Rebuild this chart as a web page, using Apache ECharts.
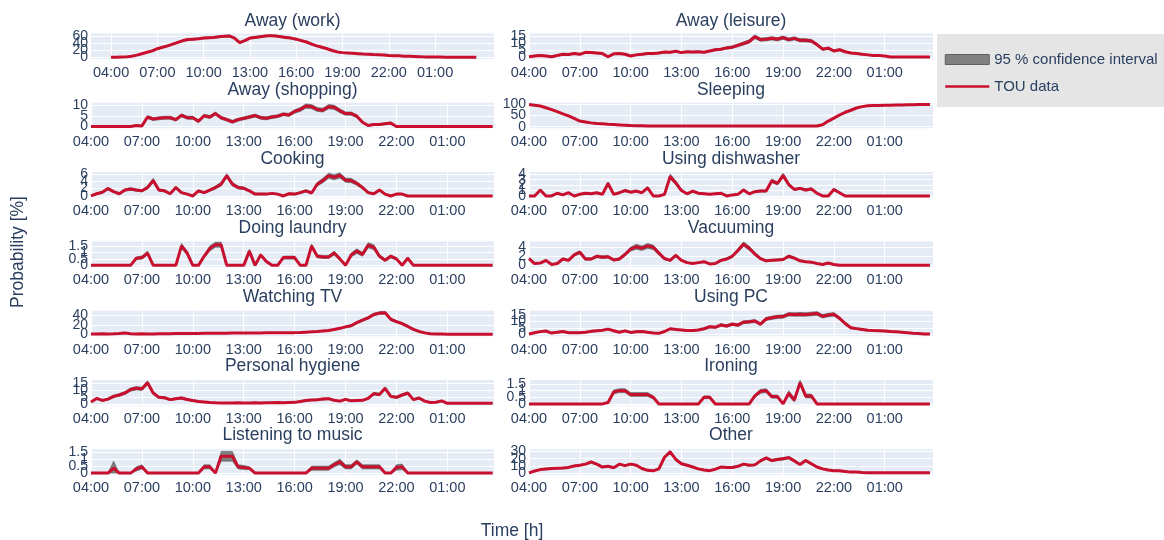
<!DOCTYPE html>
<html>
<head>
<meta charset="utf-8">
<title>TOU activity probabilities</title>
<script src="https://cdn.jsdelivr.net/npm/echarts@6/dist/echarts.min.js"></script>
<style>
  html, body { margin: 0; padding: 0; background: #fff; }
  #chart { width: 1164px; height: 540px; }
</style>
</head>
<body>
<div id="chart"></div>
<script>
// sample times, 20 minute steps starting 04:00
var timeSlots = [
  '04:00','04:20','04:40','05:00','05:20','05:40','06:00','06:20','06:40','07:00','07:20','07:40',
  '08:00','08:20','08:40','09:00','09:20','09:40','10:00','10:20','10:40','11:00','11:20','11:40',
  '12:00','12:20','12:40','13:00','13:20','13:40','14:00','14:20','14:40','15:00','15:20','15:40',
  '16:00','16:20','16:40','17:00','17:20','17:40','18:00','18:20','18:40','19:00','19:20','19:40',
  '20:00','20:20','20:40','21:00','21:20','21:40','22:00','22:20','22:40','23:00','23:20','23:40',
  '00:00','00:20','00:40','01:00','01:20','01:40','02:00','02:20','02:40','03:00','03:20','03:40'
];
var xTickLabels = ['04:00', '07:00', '10:00', '13:00', '16:00', '19:00', '22:00', '01:00'];

// TOU data [%] and half width of the 95 % confidence interval
var awayWork = [
  1, 1, 1.5, 2, 4, 7, 11, 15, 19, 25, 29, 33,
  38, 43, 48, 51, 52, 53, 55, 56, 57, 59, 60, 61,
  55, 42, 48, 55, 57, 59, 61, 62, 61, 59, 57, 55,
  52, 48, 44, 38, 33, 29, 25, 20, 16, 14, 13, 12,
  11, 10, 9.5, 8.5, 8, 7, 6, 5.5, 5, 4, 3.5, 3,
  2.5, 2, 2, 1.5, 1.5, 1, 1, 1, 1, 1, 1, 1
];
var ciWork = [
  .3, .3, .4, .5, .8, 1, 1.2, 1.5, 1.8, 2, 2, 2,
  2.2, 2.2, 2.2, 2.2, 2.2, 2.2, 2.2, 2.2, 2.2, 2.2, 2.2, 2.2,
  2.2, 2.2, 2.2, 2.2, 2.2, 2.2, 2.2, 2.2, 2.2, 2.2, 2.2, 2.2,
  2.2, 2.2, 2.2, 2, 2, 2, 1.8, 1.6, 1.5, 1.4, 1.3, 1.3,
  1.2, 1.2, 1.1, 1, 1, 1, .9, .9, .8, .8, .7, .7,
  .6, .6, .5, .5, .5, .4, .4, .4, .4, .4, .4, .4
];
var awayShopping = [
  0, 0, 0, 0, 0, 0, 0, 0, 0.5, 0.3, 4.4, 3.5,
  3.8, 4.1, 4.1, 3.2, 5.2, 4.1, 4.1, 2.5, 5.0, 4.4, 6.0, 4.1,
  3.2, 2.2, 3.2, 3.8, 4.4, 5.1, 4.1, 3.8, 4.4, 4.8, 5.7, 5.4,
  7.0, 7.9, 9.5, 9.2, 7.9, 7.6, 9.2, 8.9, 7.3, 6.0, 6.0, 4.8,
  2.0, 0.5, 1.0, 1.0, 1.3, 1.6, 0, 0, 0, 0, 0, 0,
  0, 0, 0, 0, 0, 0, 0, 0, 0, 0, 0, 0
];
var ciShopping = [
  0, 0, 0, 0, 0, 0, 0, 0, .3, .3, .7, .7,
  .7, .7, .7, .7, .7, .7, .7, .7, .7, .7, .7, .7,
  .7, .7, .7, .7, .7, .7, .7, .7, .7, .7, .7, .7,
  .8, .9, 1, 1, .9, .9, 1, 1, .9, .8, .8, .7,
  .5, .3, .4, .4, .4, .5, 0, 0, 0, 0, 0, 0,
  0, 0, 0, 0, 0, 0, 0, 0, 0, 0, 0, 0
];
var awayLeisure = [
  0.5, 1, 1.3, 1, 0.5, 1.3, 2.2, 2, 2.7, 2.2, 3.6, 3.4,
  3.1, 2.7, 0.5, 2.5, 2.7, 2.2, 1, 1.8, 2.2, 2.7, 2.7, 3.1,
  3.8, 3.6, 4.3, 3.4, 4, 3.8, 4, 3.6, 4.5, 5.4, 5.8, 6.7,
  7.2, 8.5, 9.8, 11.2, 14.5, 12.5, 12.8, 13.4, 12.8, 13.9, 12.5, 13.4,
  12, 12, 11.6, 9, 5.8, 6.5, 4.5, 5.4, 4, 3.1, 2.7, 2.2,
  1.8, 1.3, 1.3, 1, 0.3, 0.3, 0.3, 0.3, 0.3, 0.3, 0.3, 0.3
];
var ciLeisure = [
  .5, .5, .5, .5, .5, .5, .5, .5, .5, .5, .5, .5,
  .5, .5, .5, .5, .5, .5, .5, .5, .5, .5, .5, .5,
  .5, .5, .5, .5, .5, .5, .5, .5, .5, .7, .7, .8,
  .9, 1, 1.1, 1.2, 1.3, 1.2, 1.2, 1.2, 1.2, 1.2, 1.2, 1.2,
  1.2, 1.2, 1.1, 1, .8, .8, .7, .7, .6, .5, .5, .4,
  .4, .3, .3, .2, .2, .2, .2, .2, .2, .2, .2, .2
];
var sleeping = [
  98, 95, 92, 84, 76, 67, 57, 48, 37, 25, 21, 17,
  14, 13, 11, 9.5, 8, 6.5, 5, 4.5, 4, 3.5, 3.5, 3,
  3, 3, 3, 3, 3, 3, 3, 3, 3, 3, 3, 3,
  3, 3, 3, 3, 3, 3, 3, 3, 3, 3, 3, 3,
  3, 3, 3, 3.5, 9, 25, 38, 52, 64, 73, 83, 89,
  93, 93.5, 94, 95, 95.5, 96, 96.5, 97, 97.5, 98, 98.5, 99
];
var ciSleeping = [
  1, 1.5, 2, 2.5, 3, 3, 3, 3, 3, 2.5, 2.5, 2,
  2, 1.5, 1.5, 1, 1, 1, 1, 1, 1, 1, 1, 1,
  1, 1, 1, 1, 1, 1, 1, 1, 1, 1, 1, 1,
  1, 1, 1, 1, 1, 1, 1, 1, 1, 1, 1, 1,
  1, 1, 1, 1, 1.5, 2, 3, 3, 3, 3, 2.5, 2,
  1.5, 1.5, 1.5, 1, 1, 1, 1, 1, 1, 1, 1, 1
];
var cooking = [
  0, 0.6, 1.0, 2.0, 1.2, 0.6, 1.6, 1.9, 1.6, 1.4, 2.3, 4.2,
  1.6, 1.4, 0.6, 2.3, 0.9, 0.5, 0, 1.4, 0.9, 1.6, 2.3, 3.2,
  5.5, 3.2, 2.3, 2.1, 1.4, 0.5, 0.5, 0.5, 0.7, 0.5, 0, 0.6,
  0.5, 0.9, 1.4, 0.8, 3.2, 4.2, 5.5, 5.1, 5.6, 4.3, 4.2, 3.4,
  2.3, 0.9, 0.6, 1.6, 0.5, 0, 0.5, 0.5, 0, 0, 0, 0,
  0, 0, 0, 0, 0, 0, 0, 0, 0, 0, 0, 0
];
var ciCooking = [
  0, .2, .25, .35, .3, .2, .3, .35, .3, .3, .4, .6,
  .3, .3, .2, .4, .25, .2, 0, .3, .25, .3, .4, .5,
  .6, .5, .4, .35, .3, .2, .2, .2, .2, .2, 0, .2,
  .2, .25, .3, .25, .5, .6, .7, .7, .7, .6, .6, .5,
  .4, .25, .2, .3, .2, 0, .2, .2, 0, 0, 0, 0,
  0, 0, 0, 0, 0, 0, 0, 0, 0, 0, 0, 0
];
var dishwasher = [
  0, 0, 1.1, 0, 0, 0.5, 0.2, 0.6, 0, 0.3, 0.5, 0.4,
  0.6, 0.3, 2.3, 0.3, 0.6, 1.0, 0.7, 0.9, 0.6, 1.5, 0, 0,
  0.3, 3.6, 2.4, 1.0, 0.4, 0.9, 0.5, 0.4, 0.3, 0.4, 0.5, 0,
  0.2, 0.3, 1.1, 0.4, 0.8, 0.9, 0.9, 2.8, 2.3, 3.8, 2.1, 1.2,
  1.4, 1.1, 1.3, 0.5, 0, 0, 1.2, 0.6, 0, 0, 0, 0,
  0, 0, 0, 0, 0, 0, 0, 0, 0, 0, 0, 0
];
var ciDishwasher = [
  0, 0, .2, 0, 0, .12, .08, .12, 0, .08, .12, .1,
  .12, .08, .3, .08, .12, .2, .15, .15, .12, .25, 0, 0,
  .1, .45, .35, .2, .1, .15, .12, .1, .08, .1, .12, 0,
  .08, .08, .2, .1, .15, .18, .18, .35, .3, .4, .3, .2,
  .2, .2, .2, .1, 0, 0, .25, .12, 0, 0, 0, 0,
  0, 0, 0, 0, 0, 0, 0, 0, 0, 0, 0, 0
];
var laundry = [
  0, 0, 0, 0, 0, 0, 0, 0, 0.55, 0.6, 0.95, 0,
  0, 0, 0, 0, 1.5, 0.95, 0, 0, 0.7, 1.3, 1.6, 1.6,
  0, 0, 0, 0, 1.1, 0, 0.8, 0.3, 0, 0, 0.6, 0.6,
  0.6, 0, 0, 1.5, 0.7, 0.65, 0.65, 0.95, 0.5, 0, 0.8, 1.1,
  0.85, 1.55, 1.4, 0.7, 0.4, 0.7, 0.5, 0, 0.55, 0, 0, 0,
  0, 0, 0, 0, 0, 0, 0, 0, 0, 0, 0, 0
];
var ciLaundry = [
  0, 0, 0, 0, 0, 0, 0, 0, .1, .12, .15, 0,
  0, 0, 0, 0, .2, .15, 0, 0, .12, .2, .2, .2,
  0, 0, 0, 0, .15, 0, .12, .08, 0, 0, .12, .12,
  .12, 0, 0, .15, .12, .12, .12, .15, .1, 0, .15, .18,
  .15, .2, .2, .12, .1, .12, .1, 0, .1, 0, 0, 0,
  0, 0, 0, 0, 0, 0, 0, 0, 0, 0, 0, 0
];
var vacuuming = [
  1.5, 0.4, 0.5, 1.1, 0.2, 0.4, 1.4, 1.1, 2.3, 2.9, 1.4, 1.4,
  2.0, 1.8, 1.9, 1.2, 1.4, 2.4, 3.6, 4.1, 3.8, 4.3, 4.0, 2.7,
  1.5, 1.1, 2.2, 1.1, 0.6, 0.4, 0.6, 0.8, 0.3, 0.4, 1.1, 1.4,
  2.0, 3.3, 4.7, 3.8, 2.5, 1.5, 1.0, 1.1, 1.2, 1.3, 2.0, 1.6,
  1.0, 0.8, 0.7, 0.4, 0.2, 0.5, 0.2, 0, 0, 0, 0, 0,
  0, 0, 0, 0, 0, 0, 0, 0, 0, 0, 0, 0
];
var ciVacuuming = [
  .25, .1, .12, .2, .08, .1, .25, .2, .3, .35, .25, .25,
  .3, .3, .3, .2, .25, .35, .45, .55, .5, .55, .5, .4,
  .25, .2, .3, .2, .12, .1, .12, .15, .08, .1, .2, .25,
  .3, .4, .5, .45, .35, .25, .2, .2, .2, .2, .3, .25,
  .2, .15, .15, .1, .05, .1, .05, 0, 0, 0, 0, 0,
  0, 0, 0, 0, 0, 0, 0, 0, 0, 0, 0, 0
];
var watchingTV = [
  1.0, 1.2, 1.4, 1.3, 1.5, 2.0, 3.0, 1.5, 1.3, 1.5, 1.2, 1.0,
  1.5, 1.6, 1.8, 2.0, 2.0, 2.2, 2.3, 2.4, 2.5, 2.6, 2.7, 2.8,
  2.9, 3.0, 3.0, 3.1, 3.2, 3.3, 3.4, 3.5, 3.5, 3.6, 3.7, 3.8,
  4.0, 4.4, 5.0, 5.6, 6.5, 7.5, 8.5, 10.5, 13, 16, 18.5, 25,
  30, 35, 42, 45, 45.5, 32, 27, 23, 17, 11, 6.5, 3.5,
  1.8, 1.2, 1.0, 0.8, 0.8, 0.7, 0.7, 0.6, 0.6, 0.5, 0.5, 0.5
];
var ciTV = [
  .5, .5, .5, .5, .5, .5, .5, .5, .5, .5, .5, .5,
  .5, .5, .5, .5, .5, .5, .5, .5, .5, .5, .5, .5,
  .5, .5, .5, .5, .5, .5, .5, .5, .5, .5, .5, .5,
  .6, .7, .8, .9, 1, 1.1, 1.2, 1.4, 1.6, 1.8, 2, 2.2,
  2.4, 2.6, 2.8, 2.9, 2.9, 2.6, 2.4, 2.2, 1.9, 1.5, 1.1, .8,
  .6, .5, .5, .4, .4, .4, .4, .4, .4, .4, .4, .4
];
var usingPC = [
  0.5, 1.5, 2.3, 2.8, 1.2, 1.8, 2.4, 1.5, 1.5, 1.5, 1.8, 2.5,
  2.9, 3.3, 4.2, 3.0, 1.8, 2.9, 1.7, 2.2, 2.4, 1.8, 1.3, 1.0,
  2.4, 4.5, 4.0, 3.6, 3.2, 3.2, 3.6, 4.5, 6.0, 5.6, 7.4, 6.6,
  8.0, 7.3, 9.5, 9.8, 10.4, 8.0, 12.0, 12.9, 13.6, 13.8, 15.6, 15.4,
  15.5, 15.4, 15.8, 16.2, 14.0, 15.0, 15.5, 12.5, 8.5, 5.3, 4.6, 4.0,
  3.4, 3.1, 2.9, 2.7, 2.4, 2.2, 1.9, 1.5, 1.0, 0.8, 0.5, 0.4
];
var ciPC = [
  .5, .5, .5, .5, .5, .5, .5, .5, .5, .5, .5, .5,
  .5, .5, .5, .5, .5, .5, .5, .5, .5, .5, .5, .5,
  .5, .5, .5, .5, .5, .5, .6, .7, .8, .8, .9, .9,
  1, 1, 1.1, 1.1, 1.2, 1.1, 1.2, 1.3, 1.3, 1.3, 1.4, 1.4,
  1.4, 1.4, 1.4, 1.4, 1.3, 1.4, 1.4, 1.2, 1, .8, .7, .7,
  .6, .6, .6, .5, .5, .5, .4, .4, .3, .3, .3, .3
];
var hygiene = [
  1.4, 4.0, 2.5, 3.5, 5.5, 6.5, 8.0, 10.5, 11.5, 11.0, 15.5, 8.0,
  4.8, 4.5, 3.1, 3.8, 4.3, 3.2, 2.4, 1.8, 1.4, 1.0, 0.8, 0.7,
  0.6, 0.7, 0.8, 0.6, 0.7, 0.9, 0.7, 0.8, 0.9, 1.0, 0.8, 1.0,
  1.1, 1.8, 2.4, 2.9, 3.0, 3.5, 3.8, 2.6, 2.0, 3.3, 2.2, 2.4,
  2.6, 4.0, 7.5, 6.8, 11.4, 5.5, 4.8, 6.5, 7.9, 3.1, 4.3, 2.0,
  1.0, 1.2, 2.2, 0.4, 0.4, 0.4, 0.4, 0.4, 0.4, 0.4, 0.4, 0.4
];
var ciHygiene = [
  .4, .7, .6, .7, .9, 1, 1.1, 1.2, 1.3, 1.2, 1.4, 1.1,
  .8, .8, .7, .7, .8, .7, .6, .5, .4, .3, .3, .3,
  .3, .3, .3, .3, .3, .3, .3, .3, .3, .3, .3, .3,
  .4, .5, .6, .6, .6, .7, .7, .6, .5, .6, .5, .5,
  .6, .7, 1, .9, 1.2, .8, .8, .9, 1, .6, .7, .5,
  .3, .4, .5, .2, .2, .2, .2, .2, .2, .2, .2, .2
];
var ironing = [
  0, 0, 0, 0, 0, 0, 0, 0, 0, 0, 0, 0,
  0, 0, 0.1, 0.9, 1.0, 1.0, 0.7, 0.7, 0.7, 0.7, 0.5, 0,
  0, 0, 0, 0, 0, 0, 0, 0.5, 0.5, 0, 0, 0,
  0, 0, 0, 0, 0.6, 0.95, 1.0, 0.55, 0.55, 0, 0.8, 0.3,
  1.6, 0.6, 0.6, 0, 0, 0, 0, 0, 0, 0, 0, 0,
  0, 0, 0, 0, 0, 0, 0, 0, 0, 0, 0, 0
];
var ciIroning = [
  0, 0, 0, 0, 0, 0, 0, 0, 0, 0, 0, 0,
  0, 0, .05, .15, .15, .15, .15, .15, .15, .15, .12, 0,
  0, 0, 0, 0, 0, 0, 0, .1, .1, 0, 0, 0,
  0, 0, 0, 0, .12, .15, .15, .12, .12, 0, .2, .15,
  .2, .15, .15, 0, 0, 0, 0, 0, 0, 0, 0, 0,
  0, 0, 0, 0, 0, 0, 0, 0, 0, 0, 0, 0
];
var music = [
  0, 0, 0, 0, 0.35, 0, 0, 0, 0.3, 0.45, 0, 0,
  0, 0, 0, 0, 0, 0, 0, 0, 0.45, 0.45, 0, 1.2,
  1.2, 1.2, 0.45, 0.4, 0.35, 0, 0, 0, 0, 0, 0, 0,
  0, 0, 0, 0.35, 0.35, 0.35, 0.35, 0.6, 0.8, 0.45, 0.45, 0.8,
  0.45, 0.45, 0.45, 0.45, 0, 0, 0.4, 0.45, 0, 0, 0, 0,
  0, 0, 0, 0, 0, 0, 0, 0, 0, 0, 0, 0
];
var ciMusic = [
  0, 0, 0, 0, .5, 0, 0, 0, .15, .15, 0, 0,
  0, 0, 0, 0, 0, 0, 0, 0, .15, .15, 0, .35,
  .35, .35, .15, .15, .1, 0, 0, 0, 0, 0, 0, 0,
  0, 0, 0, .15, .15, .15, .15, .15, .2, .15, .15, .15,
  .15, .15, .15, .15, 0, 0, .2, .2, 0, 0, 0, 0,
  0, 0, 0, 0, 0, 0, 0, 0, 0, 0, 0, 0
];
var other = [
  0.5, 3.0, 5.0, 5.8, 6.5, 6.8, 7.1, 8.0, 10.0, 11.0, 12.5, 15.5,
  12.5, 8.5, 9.5, 7.5, 12.5, 10.5, 12.5, 11.0, 6.5, 4.0, 3.3, 6.0,
  22, 29.5, 19, 13, 11, 8.5, 6.0, 4.5, 3.5, 5.5, 8.5, 8.0,
  8.0, 9.5, 12.5, 11.0, 11.5, 17.0, 21.0, 17.5, 19.0, 20.0, 21.5, 17.0,
  12.0, 17.5, 13.0, 8.5, 6.0, 4.5, 3.5, 3.5, 2.5, 1.5, 1.5, 1.0,
  0.8, 0.5, 0.5, 0.5, 0.5, 0.5, 0.5, 0.5, 0.5, 0.5, 0.5, 0.5
];
var ciOther = [
  .2, .6, .8, 1, 1, 1, 1, 1, 1, 1, 1, 1,
  1, 1, 1, 1, 1, 1, 1, 1, 1, 1, 1, 1,
  1.5, 1.8, 1.4, 1.2, 1, 1, .8, .7, .6, .8, 1, 1,
  1, 1.1, 1.2, 1.2, 1.2, 1.5, 1.6, 1.5, 1.6, 1.6, 1.6, 1.5,
  1.2, 1.5, 1.2, 1, .8, .7, .6, .6, .5, .4, .4, .3,
  .2, .2, .2, .2, .2, .2, .2, .2, .2, .2, .2, .2
];

// subplot settings: column, row, axis ranges and tick values
var panels = [
  { title: 'Away (work)', col: 0, row: 0, tou: awayWork, ci: ciWork, yTicks: [0, 20, 40, 60], yMin: -4, yMax: 68, xMin: 2.7, xMax: 28.82 },
  { title: 'Away (shopping)', col: 0, row: 1, tou: awayShopping, ci: ciShopping, yTicks: [0, 5, 10], yMin: -0.8, yMax: 11 },
  { title: 'Cooking', col: 0, row: 2, tou: cooking, ci: ciCooking, yTicks: [0, 2, 4, 6], yMin: -0.45, yMax: 6.5 },
  { title: 'Doing laundry', col: 0, row: 3, tou: laundry, ci: ciLaundry, yTicks: [0, 0.5, 1, 1.5], yMin: -0.12, yMax: 1.85 },
  { title: 'Watching TV', col: 0, row: 4, tou: watchingTV, ci: ciTV, yTicks: [0, 20, 40], yMin: -3.5, yMax: 50 },
  { title: 'Personal hygiene', col: 0, row: 5, tou: hygiene, ci: ciHygiene, yTicks: [0, 5, 10, 15], yMin: -1.2, yMax: 17.5 },
  { title: 'Listening to music', col: 0, row: 6, tou: music, ci: ciMusic, yTicks: [0, 0.5, 1, 1.5], yMin: -0.12, yMax: 1.7 },
  { title: 'Away (leisure)', col: 1, row: 0, tou: awayLeisure, ci: ciLeisure, yTicks: [0, 5, 10, 15], yMin: -1.1, yMax: 16.8 },
  { title: 'Sleeping', col: 1, row: 1, tou: sleeping, ci: ciSleeping, yTicks: [0, 50, 100], yMin: -7, yMax: 106 },
  { title: 'Using dishwasher', col: 1, row: 2, tou: dishwasher, ci: ciDishwasher, yTicks: [0, 1, 2, 3, 4], yMin: -0.3, yMax: 4.4 },
  { title: 'Vacuuming', col: 1, row: 3, tou: vacuuming, ci: ciVacuuming, yTicks: [0, 2, 4], yMin: -0.35, yMax: 5.3 },
  { title: 'Using PC', col: 1, row: 4, tou: usingPC, ci: ciPC, yTicks: [0, 5, 10, 15], yMin: -1.2, yMax: 18.3 },
  { title: 'Ironing', col: 1, row: 5, tou: ironing, ci: ciIroning, yTicks: [0, 0.5, 1, 1.5], yMin: -0.12, yMax: 1.8 },
  { title: 'Other', col: 1, row: 6, tou: other, ci: ciOther, yTicks: [0, 10, 20, 30], yMin: -2.2, yMax: 33 }
];

function toHour(s) { // '02:20' -> 26.33 (the day runs from 04:00 to 04:00)
  var parts = s.split(':');
  var v = Number(parts[0]) + Number(parts[1]) / 60;
  return v < 4 ? v + 24 : v;
}

var hours = timeSlots.map(toHour);
var xTickHours = xTickLabels.map(toHour);
var FONT = "'Liberation Sans', Arial, sans-serif";
var TEXT = '#2a3f5f';
var BAND = 'rgba(80,80,80,0.72)';

// one polygon for the whole band, drawn when the first item is rendered
function bandRenderer(rows) {
  return function (params, api) {
    if (params.dataIndex !== 0) return null;
    var pts = [], k;
    for (k = 0; k < rows.length; k++) pts.push(api.coord([rows[k][0], rows[k][2]]));
    for (k = rows.length - 1; k >= 0; k--) pts.push(api.coord([rows[k][0], rows[k][1]]));
    return {
      type: 'polygon',
      shape: { points: pts },
      style: { fill: BAND, stroke: 'rgba(70,70,70,0.6)', lineWidth: 0.8 }
    };
  };
}

function gridLeft(p) { return p.col === 0 ? 91 : 529; }

var grids = [], xAxes = [], yAxes = [], series = [], graphics = [];

panels.forEach(function (p, i) {
  var left = gridLeft(p);
  var width = p.col === 0 ? 403 : 404;
  var top = 33.5 + 69.3 * p.row;

  grids.push({
    left: left, top: top, width: width, height: 25.5,
    show: true, backgroundColor: '#e5ecf6', borderWidth: 0,
    outerBoundsMode: 'none'
  });

  xAxes.push({
    type: 'value', gridIndex: i,
    min: p.xMin !== undefined ? p.xMin : 4,
    max: p.xMax !== undefined ? p.xMax : (p.col === 0 ? 27.75 : 27.85),
    axisLine: { show: false },
    axisTick: { show: false, customValues: xTickHours },
    axisLabel: {
      customValues: xTickHours, margin: 6, color: TEXT, fontSize: 14.5, fontFamily: FONT,
      showMinLabel: true, showMaxLabel: true,
      formatter: function (v) {
        var k = xTickHours.indexOf(v);
        return k > -1 ? xTickLabels[k] : '';
      }
    },
    splitLine: { show: true, lineStyle: { color: '#ffffff', width: 1 } }
  });

  // tick labels of the y axes overlap on purpose, they are added as text below
  yAxes.push({
    type: 'value', gridIndex: i, min: p.yMin, max: p.yMax,
    axisLine: { show: false },
    axisTick: { show: false, customValues: p.yTicks },
    axisLabel: { show: false, customValues: p.yTicks },
    splitLine: { show: true, lineStyle: { color: '#ffffff', width: 1 } }
  });

  var bandRows = hours.map(function (h, k) {
    return [h, Math.max(0, p.tou[k] - p.ci[k]), p.tou[k] + p.ci[k]];
  });
  series.push({
    type: 'custom', name: '95 % confidence interval', xAxisIndex: i, yAxisIndex: i,
    data: bandRows, encode: { x: 0, y: [1, 2] },
    renderItem: bandRenderer(bandRows), clip: true, silent: true,
    itemStyle: { color: '#7f7f7f' }, z: 2
  });
  series.push({
    type: 'line', name: 'TOU data', xAxisIndex: i, yAxisIndex: i,
    data: hours.map(function (h, k) { return [h, p.tou[k]]; }),
    symbol: 'none', silent: true,
    itemStyle: { color: '#c8102e' },
    lineStyle: { color: '#c8102e', width: 3 }, z: 3
  });

  graphics.push({
    type: 'text', x: left + width / 2, y: 21.5 + 69 * p.row,
    style: {
      text: p.title, fill: TEXT, font: '17.5px ' + FONT,
      textAlign: 'center', textVerticalAlign: 'middle', align: 'center', verticalAlign: 'middle'
    }
  });
});

graphics.push({
  type: 'text', x: 18, y: 252, rotation: Math.PI / 2,
  style: {
    text: 'Probability [%]', fill: TEXT, font: '17.5px ' + FONT,
    textAlign: 'center', textVerticalAlign: 'middle', align: 'center', verticalAlign: 'middle'
  }
});
graphics.push({
  type: 'text', x: 512, y: 531,
  style: {
    text: 'Time [h]', fill: TEXT, font: '17.5px ' + FONT,
    textAlign: 'center', textVerticalAlign: 'middle', align: 'center', verticalAlign: 'middle'
  }
});

var chart = echarts.init(document.getElementById('chart'), null, { renderer: 'canvas' });
chart.setOption({
  animation: false,
  backgroundColor: '#ffffff',
  legend: {
    left: 937, top: 34, orient: 'vertical',
    backgroundColor: '#e5e5e5', padding: [18, 14, 13, 7],
    itemGap: 12, itemWidth: 44, itemHeight: 10,
    textStyle: { fontSize: 15, color: TEXT, fontFamily: FONT },
    data: [
      { name: '95 % confidence interval', icon: 'rect', itemStyle: { color: '#808080', borderColor: '#606060', borderWidth: 1 } },
      { name: 'TOU data', itemStyle: { opacity: 0 }, lineStyle: { width: 2.5, color: '#c8102e' } }
    ]
  },
  grid: grids,
  xAxis: xAxes,
  yAxis: yAxes,
  series: series,
  graphic: graphics
});

// y tick labels placed with the axis scale of each subplot
var yLabels = [];
panels.forEach(function (p, i) {
  p.yTicks.forEach(function (v) {
    yLabels.push({
      type: 'text', x: gridLeft(p) - 3, y: chart.convertToPixel({ yAxisIndex: i }, v),
      style: {
        text: String(v), fill: TEXT, font: '14px ' + FONT,
        textAlign: 'right', textVerticalAlign: 'middle', align: 'right', verticalAlign: 'middle'
      }
    });
  });
});
chart.setOption({ graphic: graphics.concat(yLabels) });
</script>
</body>
</html>
